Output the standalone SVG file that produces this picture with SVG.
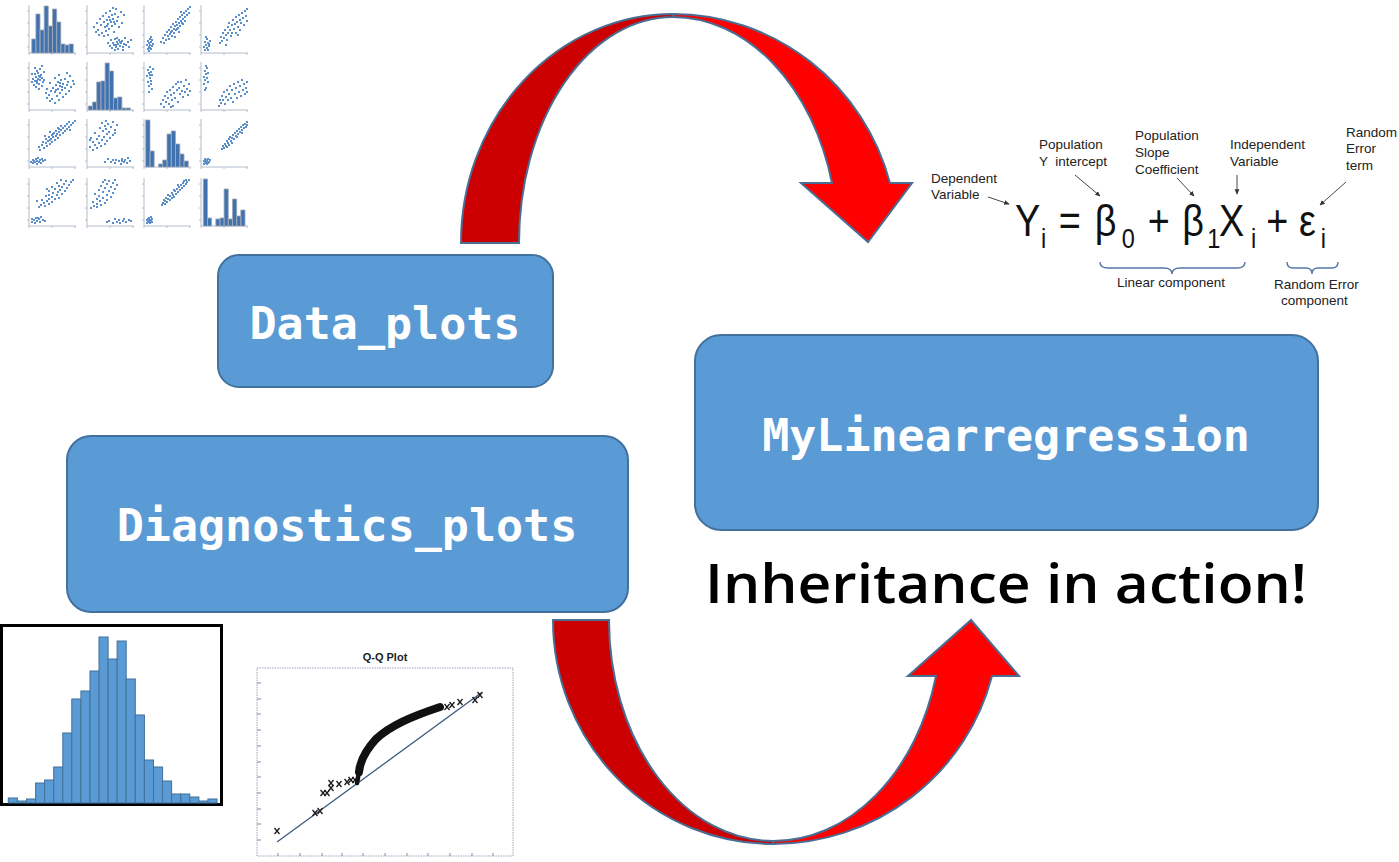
<svg xmlns="http://www.w3.org/2000/svg" xmlns:xlink="http://www.w3.org/1999/xlink" width="1399" height="862" viewBox="0 0 1399 862">
<style>
.box{fill:#5B9BD5;stroke:#41719C;stroke-width:2}
.btxt{font-family:"DejaVu Sans Mono","Liberation Mono",monospace;font-weight:bold;font-size:45px;fill:#fff;text-anchor:middle}
.arrowDark{fill:#CC0000;stroke:#4A6E93;stroke-width:2;stroke-linejoin:miter}
.arrowLight{fill:#FF0000;stroke:#4A6E93;stroke-width:2;stroke-linejoin:miter}
.lbl{font-family:"Liberation Sans",Arial,sans-serif;font-size:13.5px;fill:#222}
.eq{font-family:"Liberation Sans",Arial,sans-serif;fill:#111}
.ptr{stroke:#333;stroke-width:0.9;fill:none}
.brace{stroke:#5577a8;stroke-width:1.4;fill:none}
.dots{fill:none;stroke:#5B8FCB;stroke-width:2}
.hist{fill:#3F72AF;stroke:#A0A8B8;stroke-width:0.8}
.axis{fill:none;stroke:#B4BCCB;stroke-width:1}
.hbar{fill:#5B9BD5;stroke:#41719C;stroke-width:1}
.qx{stroke:#1a1a1a;stroke-width:1.3;fill:none}
</style>
<defs>
<marker id="ah" viewBox="0 0 8 8" refX="7" refY="4" markerWidth="6" markerHeight="6" orient="auto"><path d="M0,0.5 L8,4 L0,7.5 Z" fill="#333"/></marker>
<path id="ax" class="axis" d="M0,0V48H47M-2,6H0M-2,18H0M-2,30H0M-2,42H0M0,48v2M23,48v2M46,48v2"/>
<path id="s12" class="dots" d="M6 22h2M9 18h2M10 25h2M12 14h2M13 20h2M14 28h2M15 11h2M16 17h2M17 22h2M18 8h2M18 26h2M19 15h2M20 19h2M21 12h2M21 24h2M22 6h2M23 17h2M24 21h2M24 10h2M25 14h2M26 27h2M27 9h2M27 19h2M28 4h2M29 16h2M30 12h2M31 22h2M33 7h2M34 18h2M16 31h2M11 30h2M20 30h2M8 27h2M25 3h2M36 10h2M20 38h2M22 41h2M23 35h2M24 43h2M25 38h2M26 40h2M27 34h2M28 42h2M29 37h2M30 39h2M30 44h2M31 35h2M32 41h2M33 38h2M34 36h2M35 42h2M36 39h2M37 33h2M38 40h2M40 37h2M41 42h2M43 35h2M29 33h2M27 45h2M35 45h2M19 21h2M22 15h2M26 17h2M28 40h2M32 37h2"/>
<path id="s13" class="dots" d="M2 40h2M3 36h2M3 44h2M4 38h2M4 42h2M5 34h2M5 40h2M6 37h2M6 44h2M7 35h2M7 41h2M8 39h2M4 46h2M6 32h2M5 43h2M16 37h2M18 33h2M19 38h2M20 30h2M21 35h2M22 27h2M23 31h2M24 34h2M24 25h2M25 29h2M26 22h2M27 26h2M27 31h2M28 19h2M29 24h2M29 28h2M30 21h2M31 17h2M31 25h2M32 20h2M33 14h2M33 23h2M34 18h2M35 12h2M35 21h2M36 16h2M37 10h2M38 14h2M38 19h2M39 8h2M40 12h2M41 6h2M42 10h2M43 4h2M44 8h2M45 2h2M30 32h2M34 27h2M36 7h2M40 16h2M26 27h2M32 24h2M37 18h2"/>
<path id="s14" class="dots" d="M2 42h2M3 37h2M3 45h2M4 40h2M5 34h2M5 43h2M6 38h2M7 41h2M8 36h2M4 32h2M6 45h2M7 39h2M18 38h2M19 32h2M20 36h2M21 28h2M22 33h2M23 25h2M24 30h2M25 35h2M26 22h2M26 28h2M27 18h2M28 25h2M29 31h2M30 20h2M31 15h2M32 24h2M33 19h2M34 12h2M34 28h2M35 17h2M36 22h2M37 10h2M38 15h2M38 25h2M39 18h2M40 8h2M41 13h2M42 20h2M43 6h2M44 11h2M45 16h2M45 4h2M30 28h2M36 30h2M24 40h2"/>
<path id="s23" class="dots" d="M2 14h2M3 8h2M3 20h2M4 11h2M4 24h2M5 5h2M5 16h2M6 10h2M6 19h2M7 13h2M7 27h2M8 7h2M4 30h2M6 22h2M5 13h2M16 42h2M18 38h2M19 45h2M20 34h2M21 40h2M22 30h2M23 36h2M24 42h2M25 28h2M26 33h2M27 38h2M28 25h2M28 44h2M29 31h2M30 36h2M31 22h2M32 28h2M33 40h2M34 26h2M35 32h2M36 20h2M37 29h2M38 35h2M39 24h2M40 30h2M41 18h2M42 27h2M43 33h2M44 22h2M45 29h2M33 20h2M26 45h2"/>
<path id="s24" class="dots" d="M2 15h2M2 22h2M3 9h2M3 18h2M4 12h2M4 26h2M5 6h2M5 16h2M6 20h2M3 28h2M4 4h2M6 11h2M17 44h2M18 38h2M19 41h2M20 34h2M21 38h2M22 30h2M23 42h2M24 35h2M25 28h2M26 38h2M27 32h2M28 24h2M29 36h2M30 28h2M31 40h2M32 22h2M33 32h2M34 26h2M35 36h2M36 20h2M37 30h2M38 24h2M39 34h2M40 18h2M41 28h2M42 22h2M43 32h2M44 26h2M45 20h2M45 30h2"/>
<path id="s34" class="dots" d="M2 42h2M3 44h2M3 40h2M4 43h2M4 41h2M5 45h2M5 42h2M6 40h2M6 44h2M7 43h2M8 41h2M2 45h2M20 30h2M21 27h2M22 29h2M23 25h2M24 27h2M25 22h2M26 24h2M27 20h2M27 26h2M28 18h2M29 22h2M30 19h2M31 16h2M32 20h2M33 14h2M34 17h2M35 12h2M36 15h2M37 10h2M38 13h2M39 8h2M40 11h2M41 6h2M42 9h2M43 5h2M44 8h2M45 3h2M45 6h2M30 24h2M35 18h2M25 28h2M40 14h2"/>
<path id="qxm" class="qx" d="M-2.5,-3L2.5,3M2.5,-3L-2.5,3"/>
</defs>

<g id="connectors">
  <g id="arrow-top">
    <path class="arrowDark" d="M461,243 A212,229 0 0 1 673,14 L673,17 A154,226 0 0 0 519,243 Z"/>
    <path class="arrowLight" d="M673,14 A225,229 0 0 1 890,183 L912,183 L868,242 L801,183 L832,183 A165,226 0 0 0 673,17 Z"/>
  </g>
  <g id="arrow-bottom">
    <path class="arrowDark" d="M553,620 A220,224 0 0 0 773,844 L773,841 A164,221 0 0 1 609,620 Z"/>
    <path class="arrowLight" d="M773,844 A226,224 0 0 0 992,676 L1019,676 L971,620 L908,676 L936,676 A168,221 0 0 1 773,841 Z"/>
  </g>
</g>

<g id="scatter-matrix">
  <use href="#ax" transform="translate(29,5)"/><use href="#ax" transform="translate(87,5)"/><use href="#ax" transform="translate(144,5)"/><use href="#ax" transform="translate(201,5)"/>
  <use href="#ax" transform="translate(29,62)"/><use href="#ax" transform="translate(87,62)"/><use href="#ax" transform="translate(144,62)"/><use href="#ax" transform="translate(201,62)"/>
  <use href="#ax" transform="translate(29,119)"/><use href="#ax" transform="translate(87,119)"/><use href="#ax" transform="translate(144,119)"/><use href="#ax" transform="translate(201,119)"/>
  <use href="#ax" transform="translate(29,178)"/><use href="#ax" transform="translate(87,178)"/><use href="#ax" transform="translate(144,178)"/><use href="#ax" transform="translate(201,178)"/>
  <path class="hist" transform="translate(29,5)" d="M2.7 48V34h4.2V48ZM6.9 48V9h4.1V48ZM11 48V25h4.2V48ZM15.2 48V1h4.1V48ZM19.3 48V21h4.2V48ZM23.5 48V4h4.2V48ZM27.7 48V17h4.1V48ZM31.8 48V39h4.2V48ZM36 48V40h4.1V48ZM40.1 48V39h4.2V48Z"/>
  <path class="hist" transform="translate(87,62)" d="M1.3 48V44h4.2V48ZM5.5 48V40h4.2V48ZM9.7 48V20h4.2V48ZM13.9 48V19h4.2V48ZM18.1 48V1h4.2V48ZM22.3 48V9h4.2V48ZM26.5 48V36h4.2V48ZM30.7 48V35h4.2V48ZM34.9 48V46h4.2V48ZM39.1 48V46h4.2V48Z"/>
  <path class="hist" transform="translate(144,119)" d="M1.7 48V1h4.3V48ZM6 48V32h4.2V48ZM14.5 48V45h4.2V48ZM18.7 48V41h4.3V48ZM23 48V15h4.3V48ZM27.3 48V12h4.2V48ZM31.5 48V25h4.3V48ZM35.8 48V35h4.2V48ZM40 48V42h4.3V48Z"/>
  <path class="hist" transform="translate(201,178)" d="M2.3 48V1h4.2V48ZM6.5 48V40h4.1V48ZM14.8 48V41h4.2V48ZM19 48V40h4.1V48ZM23.1 48V11h4.2V48ZM27.3 48V41h4.2V48ZM31.5 48V21h4.2V48ZM35.7 48V38h4.1V48ZM39.8 48V32h4.2V48Z"/>
  <use href="#s12" transform="translate(87,5)"/>
  <use href="#s13" transform="translate(144,5)"/>
  <use href="#s14" transform="translate(201,5)"/>
  <use href="#s23" transform="translate(144,62)"/>
  <use href="#s24" transform="translate(201,62)"/>
  <use href="#s34" transform="translate(201,119)"/>
  <use href="#s12" transform="translate(29,62) matrix(0,-1,-1,0,48,48)"/>
  <use href="#s13" transform="translate(29,119) matrix(0,-1,-1,0,48,48)"/>
  <use href="#s14" transform="translate(29,178) matrix(0,-1,-1,0,48,48)"/>
  <use href="#s23" transform="translate(87,119) matrix(0,-1,-1,0,48,48)"/>
  <use href="#s24" transform="translate(87,178) matrix(0,-1,-1,0,48,48)"/>
  <use href="#s34" transform="translate(144,178) matrix(0,-1,-1,0,48,48)"/>
</g>

<g id="node-data-plots">
  <rect class="box" x="218" y="255" width="335" height="132" rx="21"/>
  <text class="btxt" x="385" y="339">Data_plots</text>
</g>
<g id="node-diagnostics-plots">
  <rect class="box" x="67" y="436" width="561" height="176" rx="24"/>
  <text class="btxt" x="347" y="541">Diagnostics_plots</text>
</g>
<g id="node-mylinearregression">
  <rect class="box" x="695" y="335" width="623" height="195" rx="26"/>
  <text class="btxt" x="1006" y="451">MyLinearregression</text>
</g>

<g id="caption">
  <text x="705" y="603" textLength="602" lengthAdjust="spacingAndGlyphs" style="font-family:'Open Sans','DejaVu Sans',sans-serif;font-weight:600;font-size:55px;fill:#000">Inheritance in action!</text>
</g>

<g id="equation">
  <g transform="translate(1015,0) scale(0.84,1)" class="eq">
    <text x="0" y="236" font-size="45">Y</text>
    <text x="31" y="248" font-size="28">i</text>
    <text x="52" y="236" font-size="45">=</text>
    <text x="95" y="236" font-size="45">β</text>
    <text x="127" y="248" font-size="28">0</text>
    <text x="158" y="236" font-size="45">+</text>
    <text x="199" y="236" font-size="45">β</text>
    <text x="229" y="248" font-size="28">1</text>
    <text x="243" y="236" font-size="45">X</text>
    <text x="281" y="248" font-size="28">i</text>
    <text x="299" y="236" font-size="45">+</text>
    <text x="338" y="236" font-size="45">ε</text>
    <text x="364" y="248" font-size="28">i</text>
  </g>
  <text class="lbl" x="931" y="183">Dependent</text>
  <text class="lbl" x="931" y="199">Variable</text>
  <text class="lbl" x="1039" y="149">Population</text>
  <text class="lbl" x="1039" y="166" xml:space="preserve">Y  intercept</text>
  <text class="lbl" x="1135" y="140">Population</text>
  <text class="lbl" x="1135" y="157">Slope</text>
  <text class="lbl" x="1135" y="174">Coefficient</text>
  <text class="lbl" x="1230" y="149">Independent</text>
  <text class="lbl" x="1230" y="166">Variable</text>
  <text class="lbl" x="1346" y="137">Random</text>
  <text class="lbl" x="1346" y="153">Error</text>
  <text class="lbl" x="1346" y="170">term</text>
  <text class="lbl" x="1117" y="287">Linear component</text>
  <text class="lbl" x="1274" y="289">Random Error</text>
  <text class="lbl" x="1281" y="305">component</text>
  <path class="ptr" marker-end="url(#ah)" d="M988,197 L1009,204"/>
  <path class="ptr" marker-end="url(#ah)" d="M1075,175 L1100,196"/>
  <path class="ptr" marker-end="url(#ah)" d="M1177,178 L1194,196"/>
  <path class="ptr" marker-end="url(#ah)" d="M1237,175 L1237,194"/>
  <path class="ptr" marker-end="url(#ah)" d="M1346,182 L1320,205"/>
  <path class="brace" d="M1100,262 q0,6 8,6 H1164 q8,0 8,6 q0,-6 8,-6 H1237 q8,0 8,-6"/>
  <path class="brace" d="M1287,262 q0,6 6,6 H1306 q6,0 6,6 q0,-6 6,-6 H1332 q6,0 6,-6"/>
</g>

<g id="residual-histogram">
  <rect x="1.5" y="625.5" width="220" height="179" fill="#fff" stroke="#000" stroke-width="3"/>
  <rect class="hbar" x="8.3" y="798" width="9.1" height="5"/>
  <rect class="hbar" x="17.4" y="801" width="9.1" height="2"/>
  <rect class="hbar" x="26.5" y="799" width="9.1" height="4"/>
  <rect class="hbar" x="35.6" y="783" width="9.1" height="20"/>
  <rect class="hbar" x="44.6" y="780" width="9.1" height="23"/>
  <rect class="hbar" x="53.7" y="767" width="9.1" height="36"/>
  <rect class="hbar" x="62.8" y="733" width="9.1" height="70"/>
  <rect class="hbar" x="71.8" y="699" width="9.1" height="104"/>
  <rect class="hbar" x="80.9" y="691" width="9.1" height="112"/>
  <rect class="hbar" x="90" y="671" width="9.1" height="132"/>
  <rect class="hbar" x="99" y="637" width="9.1" height="166"/>
  <rect class="hbar" x="108.1" y="659" width="9.1" height="144"/>
  <rect class="hbar" x="117.1" y="641" width="9.1" height="162"/>
  <rect class="hbar" x="126.2" y="679" width="9.1" height="124"/>
  <rect class="hbar" x="135.3" y="715" width="9.1" height="88"/>
  <rect class="hbar" x="144.4" y="760" width="9.1" height="43"/>
  <rect class="hbar" x="153.5" y="767" width="9.1" height="36"/>
  <rect class="hbar" x="162.5" y="781" width="9.1" height="22"/>
  <rect class="hbar" x="171.6" y="794" width="9.1" height="9"/>
  <rect class="hbar" x="180.7" y="794" width="9.1" height="9"/>
  <rect class="hbar" x="189.8" y="797" width="9.1" height="6"/>
  <rect class="hbar" x="198.8" y="801" width="9.1" height="2"/>
  <rect class="hbar" x="207.9" y="799" width="9.1" height="4"/>
</g>

<g id="qq-plot">
  <text x="385" y="661" text-anchor="middle" style="font-family:'Liberation Sans',Arial,sans-serif;font-weight:bold;font-size:11px;fill:#222">Q-Q Plot</text>
  <rect x="257" y="668" width="256" height="188" fill="none" stroke="#9AA6B8" stroke-width="1" stroke-dasharray="1.5 1"/>
  <path stroke="#7D8BA0" stroke-width="1" fill="none" d="M257,683h4M257,699h4M257,714h4M257,730h4M257,746h4M257,762h4M257,777h4M257,793h4M257,809h4M257,824h4M257,840h4M278,856v-3M300,856v-3M322,856v-3M342,856v-3M363,856v-3M385,856v-3M407,856v-3M428,856v-3M450,856v-3M472,856v-3M493,856v-3"/>
  <path d="M277,842 L481,693" stroke="#3D5A80" stroke-width="1.3" fill="none"/>
  <path d="M359,772 C360,762 366,750 376,739 C390,726 410,717 440,707" stroke="#111" stroke-width="8" stroke-linecap="round" fill="none"/>
  <path d="M357,783 L359,772" stroke="#111" stroke-width="4.5" stroke-linecap="round" fill="none"/>
  <use href="#qxm" x="277" y="831"/>
  <use href="#qxm" x="315" y="813"/><use href="#qxm" x="320" y="811"/>
  <use href="#qxm" x="323" y="793"/><use href="#qxm" x="327" y="793"/>
  <use href="#qxm" x="331" y="783"/><use href="#qxm" x="331" y="788"/>
  <use href="#qxm" x="339" y="784"/>
  <use href="#qxm" x="347" y="782"/><use href="#qxm" x="351" y="780"/><use href="#qxm" x="355" y="780"/>
  <use href="#qxm" x="447" y="707"/><use href="#qxm" x="452" y="705"/><use href="#qxm" x="460" y="702"/>
  <use href="#qxm" x="475" y="700"/><use href="#qxm" x="480" y="695"/>
</g>
</svg>
